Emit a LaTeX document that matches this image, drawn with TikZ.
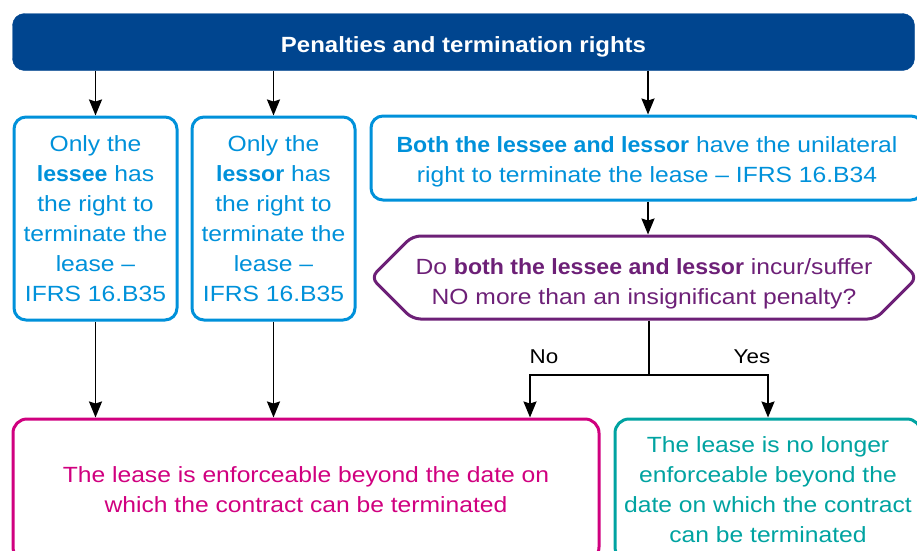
\documentclass[tikz,border=0pt]{standalone}
\usepackage{fontspec}
\setmainfont{Liberation Sans}[FakeStretch=1.12]
\newfontfamily\bodybold{Liberation Sans Bold}[FakeStretch=1.05]
\newfontfamily\titlefont{Liberation Sans Bold}[FakeStretch=1.09]
\newcommand{\hb}[1]{{\bodybold #1}}
\newcommand{\lowerline}[2]{\raisebox{-#1}[\height][\depth]{#2}}
\usetikzlibrary{arrows.meta,shapes.symbols}
\definecolor{kdark}{HTML}{00458F}
\definecolor{kblue}{HTML}{0091DA}
\definecolor{kpurple}{HTML}{6D2077}
\definecolor{kpink}{HTML}{D0007F}
\definecolor{kteal}{HTML}{00A3A1}
\tikzset{
  bodytext/.style={font=\fontsize{22}{30}\selectfont, align=center},
  topbar/.style={fill=kdark, draw=kdark, rounded corners=12pt, text=white,
    font=\fontsize{22}{26}\selectfont\titlefont, minimum width=902pt, minimum height=57pt, inner sep=0pt},
  bluebox/.style={bodytext, draw=kblue, text=kblue, line width=3pt, rounded corners=12pt, inner sep=0pt},
  question/.style={bodytext, draw=kpurple, text=kpurple, line width=3pt, rounded corners=8pt,
    signal, signal to=east and west, signal pointer angle=90, inner sep=0pt},
  pinkbox/.style={bodytext, draw=kpink, text=kpink, line width=3pt, rounded corners=14pt, inner sep=0pt},
  tealbox/.style={bodytext, draw=kteal, text=kteal, line width=3pt, rounded corners=14pt, inner sep=0pt},
  arr/.style={draw=black, line width=1.8pt, -{Stealth[length=16pt,width=13pt,inset=2pt]}},
  conn/.style={draw=black, line width=1.8pt},
  lbl/.style={font=\fontsize{20}{24}\selectfont, text=black, inner sep=0pt}
}
\begin{document}
\begin{tikzpicture}[x=1pt,y=-1pt]
\useasboundingbox (0,0) rectangle (917,550);
\node[topbar] (top) at (463.5,42) {\raisebox{-10pt}[0pt][0pt]{Penalties and termination rights}};
\node[bluebox, minimum width=163pt, minimum height=203pt] (b1) at (95.5,218.5)
  {Only the\\\hb{lessee} has\\the right to\\terminate the\\lease --\\IFRS 16.B35};
\node[bluebox, minimum width=163pt, minimum height=203pt] (b2) at (273.5,218.5)
  {Only the\\\hb{lessor} has\\the right to\\terminate the\\lease --\\IFRS 16.B35};
\node[bluebox, minimum width=552pt, minimum height=84pt] (b3) at (647,158)
  {\lowerline{4pt}{\hb{Both the lessee and lessor} have the unilateral}\\\lowerline{4pt}{right to terminate the lease -- IFRS 16.B34}};
\node[question, minimum width=546pt, minimum height=83pt] (q) at (644,277.5)
  {\lowerline{6pt}{Do \hb{both the lessee and lessor} incur/suffer}\\\lowerline{6pt}{NO more than an insignificant penalty?}};
\node[pinkbox, minimum width=586pt, minimum height=142pt] (r1) at (306,490)
  {The lease is enforceable beyond the date on\\which the contract can be terminated};
\node[tealbox, minimum width=306pt, minimum height=142pt] (r2) at (768,490)
  {The lease is no longer\\enforceable beyond the\\date on which the contract\\can be terminated};
\coordinate (split) at (649,375);
\coordinate (nodrop) at (530,375);
\coordinate (yesdrop) at (768,375);
\node[lbl] (no) at (544,357) {No};
\node[lbl] (yes) at (752,357) {Yes};
\draw[arr] (top.south -| b1.north) -- (b1.north);
\draw[arr] (top.south -| b2.north) -- (b2.north);
\draw[arr] (top.south -| 648,0) -- (b3.north -| 648,0);
\draw[arr] (b3.south -| 648,0) -- (q.north -| 648,0);
\draw[conn] (q.south -| split) -- (split);
\draw[arr] (split) -- (nodrop) -- (nodrop |- r1.north);
\draw[arr] (split) -- (yesdrop) -- (yesdrop |- r2.north);
\draw[arr] (b1.south) -- (b1.south |- r1.north);
\draw[arr] (b2.south) -- (b2.south |- r1.north);
\end{tikzpicture}
\end{document}
